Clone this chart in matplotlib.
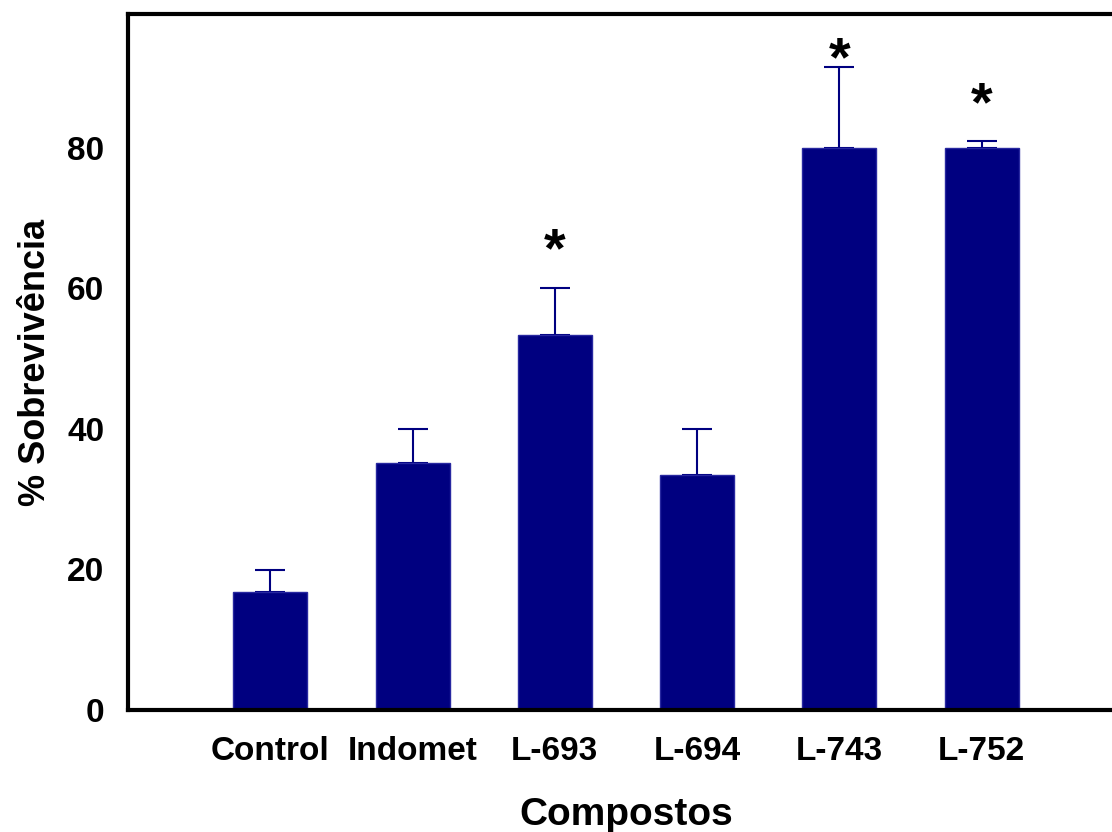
import matplotlib
matplotlib.use("Agg")
import matplotlib.pyplot as plt

# survival per compound, mean and upper SEM
compostos = ["Control", "Indomet", "L-693", "L-694", "L-743", "L-752"]
sobrevivencia = [16.8, 35.1, 53.4, 33.4, 80.0, 80.0]
erro = [3.1, 4.8, 6.6, 6.5, 11.5, 0.9]
# significance markers (position in data units)
sig_idx = [2, 4, 5]
sig_y = [65.1, 92.3, 85.9]

plt.rcParams['font.family'] = ['Liberation Sans', 'DejaVu Sans']
plt.rcParams['font.weight'] = 'bold'

fig = plt.figure(figsize=(11.12, 8.32), dpi=100)
# axes run past the right edge of the figure
ax = fig.add_axes([128 / 1112, 1 - 710 / 832, 996 / 1112, 696 / 832])

x = list(range(1, len(compostos) + 1))
ax.bar(x, sobrevivencia, width=0.52, color="#000080", edgecolor="#2828a0",
       linewidth=1.0, zorder=2)
ax.errorbar(x, sobrevivencia, yerr=[[0] * len(erro), erro], fmt="none",
            ecolor="#000080", elinewidth=1.5, capsize=11, capthick=1.5, zorder=1)

for i, yy in zip(sig_idx, sig_y):
    ax.text(x[i], yy, "*", ha="center", va="center", fontsize=40,
            fontweight="bold")

ax.set_xlim(0, 7)
ax.set_ylim(0, 99)
ax.set_xticks(x)
ax.set_xticklabels(compostos)
ax.set_yticks([0, 20, 40, 60, 80])
ax.tick_params(axis="both", length=0, labelsize=24)
ax.tick_params(axis="x", pad=19)
ax.tick_params(axis="y", pad=17)
for s in ax.spines.values():
    s.set_linewidth(3)
ax.set_xlabel("Compostos", fontsize=28, fontweight="bold", labelpad=21)
ax.set_ylabel("% Sobrevivência", fontsize=26, fontweight="bold", labelpad=10)

fig.savefig("out.png", dpi=100)
